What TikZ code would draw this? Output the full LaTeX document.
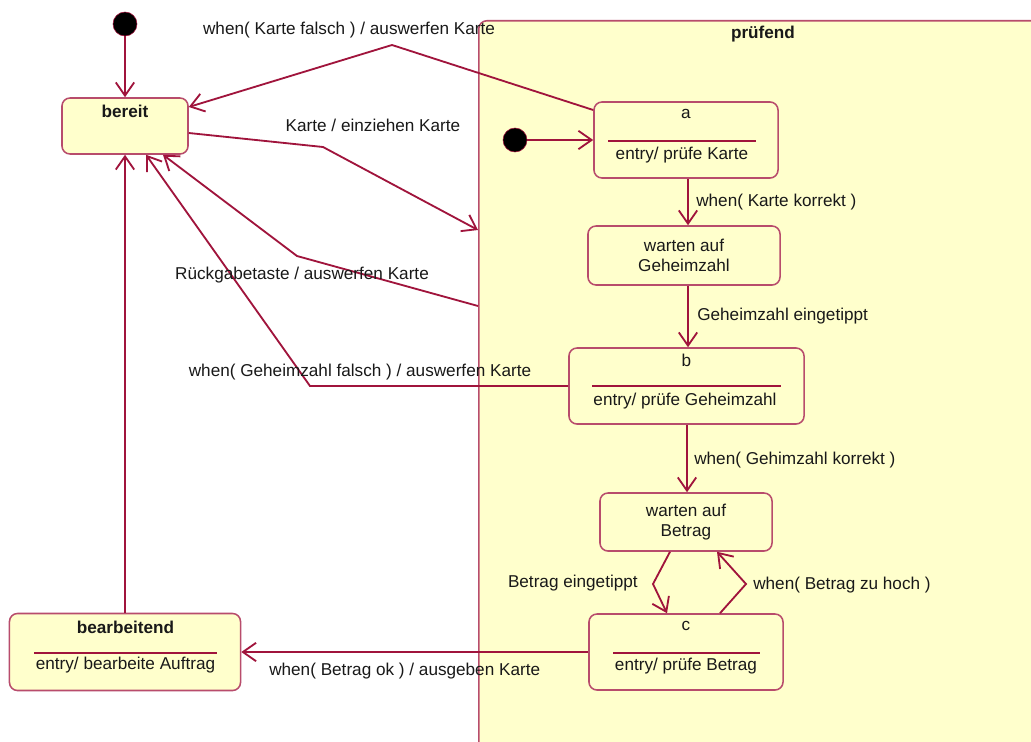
\documentclass[tikz,border=0pt]{standalone}
\usepackage{fontspec}
\setmainfont{Liberation Sans}
\usetikzlibrary{arrows.meta}
\definecolor{arrowred}{HTML}{A0143C}
\definecolor{boxred}{HTML}{B84C6C}
\definecolor{statefill}{HTML}{FFFFCC}

\begin{document}
\begin{tikzpicture}
  [x=0.025cm, y=-0.025cm, font=\fontsize{12.2}{14}\selectfont,
   every node/.style={inner sep=0pt, text=black!90},
   state/.style={draw=boxred, fill=statefill, rounded corners=2mm, line width=1.1pt},
   start/.style={circle, fill=black, draw=arrowred, minimum size=6mm},
   trans/.style={draw=arrowred, line width=1.3pt, -{Straight Barb[length=3.3mm,width=4.6mm]}},
   sep/.style={draw=arrowred, line width=1pt},
   title/.style={font=\fontsize{12.2}{14}\selectfont\bfseries}]
  \fill[white] (0,0) rectangle (1031,742);
  \useasboundingbox (0,0) rectangle (1031,742);
  \clip (0,0) rectangle (1031,742);

  % composite state
  \node[state, anchor=north west, minimum width=14cm, minimum height=18.25cm] (pruefend) at (478,20) {};
  \node[title] (pruefend-t) at (763,34) {prüfend};

  % outer states
  \node[start] (init) at (125,24) {};
  \node[state, minimum width=3.15cm, minimum height=1.4cm] (bereit) at (125,126) {};
  \node[title] (bereit-t) at (125,111) {bereit};
  \node[state, minimum width=5.775cm, minimum height=1.925cm] (bearbeitend) at (125,652) {};
  \node[title] (bearbeitend-t) at (125.5,627) {bearbeitend};
  \draw[sep] (34,653) -- (217,653);
  \node (bearbeitend-e) at (125.5,665) {entry/ bearbeite Auftrag};

  % inner states
  \node[start] (init2) at (515,140) {};
  \node[state, minimum width=4.6cm, minimum height=1.9cm] (a) at (686,140) {};
  \node (a-t) at (686,114) {a};
  \draw[sep] (608,141) -- (756,141);
  \node (a-e) at (682,155) {entry/ prüfe Karte};
  \node[state, minimum width=4.8cm, minimum height=1.475cm, align=center] (wG) at (684,255.5) {warten auf\\Geheimzahl};
  \node[state, minimum width=5.875cm, minimum height=1.9cm] (b) at (686.5,386) {};
  \node (b-t) at (686.5,360) {b};
  \draw[sep] (592,386) -- (781,386);
  \node (b-e) at (685,401) {entry/ prüfe Geheimzahl};
  \node[state, minimum width=4.3cm, minimum height=1.45cm, align=center] (wB) at (686,522) {warten auf\\Betrag};
  \node[state, minimum width=4.85cm, minimum height=1.9cm] (c) at (686,652) {};
  \node (c-t) at (686,626) {c};
  \draw[sep] (613,653) -- (760,653);
  \node (c-e) at (686,666) {entry/ prüfe Betrag};

  % transitions
  \draw[trans] (init) -- (bereit);
  \draw[trans] (init2) -- (a);
  \draw[trans] (a.south -| 688,0) -- (wG.north -| 688,0);
  \draw[trans] (wG.south -| 688,0) -- (b.north -| 688,0);
  \draw[trans] (b.south -| 687,0) -- (wB.north -| 687,0);
  \draw[trans] (wB.south -| 670,0) -- (653,584) -- (c.north -| 667,0);
  \draw[trans] (c.north -| 720,0) -- (746,584) -- (wB.south -| 717,0);
  \draw[trans] (c.west) -- (bearbeitend.east);
  \draw[trans] (bearbeitend) -- (bereit);
  \draw[trans] (a.west |- 0,110) -- (392,45) -- (bereit.east |- 0,107);
  \draw[trans] (bereit.east |- 0,133) -- (323,147) -- (pruefend.west |- 0,230);
  \draw[trans] (pruefend.west |- 0,306) -- (297,256) -- (bereit.south -| 163,0);
  \draw[trans] (b.west) -- (310,386) -- (bereit.south -| 146,0);

  % labels
  \node (l-falsch) at (349,30) {when( Karte falsch ) / auswerfen Karte};
  \node (l-einziehen) at (373,125) {Karte / einziehen Karte};
  \node (l-rueck) at (302,275) {Rückgabetaste / auswerfen Karte};
  \node (l-gfalsch) at (360,372) {when( Geheimzahl falsch ) / auswerfen Karte};
  \node[anchor=west] (l-korrekt) at (696,202) {when( Karte korrekt )};
  \node[anchor=west] (l-getippt) at (697,316) {Geheimzahl eingetippt};
  \node[anchor=west] (l-gkorrekt) at (694,460) {when( Gehimzahl korrekt )};
  \node[anchor=east] (l-betrag) at (638,583) {Betrag eingetippt};
  \node[anchor=west] (l-hoch) at (753,585) {when( Betrag zu hoch )};
  \node[anchor=west] (l-ok) at (269,671) {when( Betrag ok ) / ausgeben Karte};
\end{tikzpicture}
\end{document}
